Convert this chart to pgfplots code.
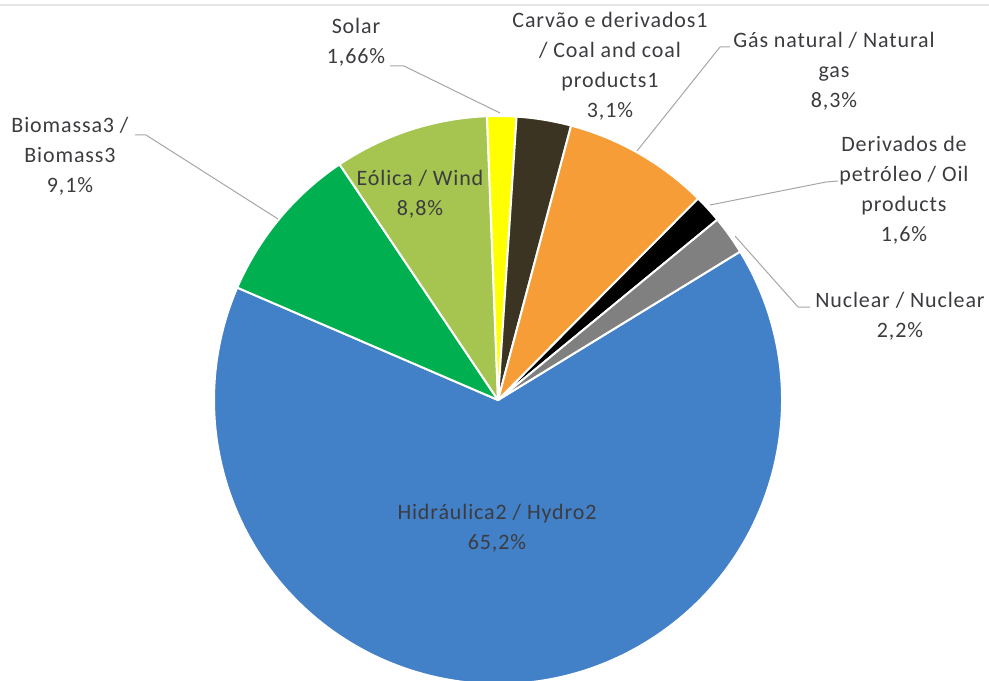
\documentclass[border=0pt]{standalone}
\usepackage{pgfplots}
\pgfplotsset{compat=1.18}
\usepackage{pgfplotstable}
\usepackage{fontspec}
\setmainfont{Carlito}[LetterSpace=4]

\definecolor{cHydro}{RGB}{66,128,200}
\definecolor{cBio}{RGB}{0,176,80}
\definecolor{cWind}{RGB}{165,197,80}
\definecolor{cSolar}{RGB}{255,255,0}
\definecolor{cCoal}{RGB}{60,52,34}
\definecolor{cGas}{RGB}{247,157,56}
\definecolor{cOil}{RGB}{0,0,0}
\definecolor{cNuc}{RGB}{128,128,128}
\definecolor{txt}{RGB}{60,60,64}
\definecolor{leader}{RGB}{166,166,166}

% shares, clockwise from the Hydro slice
\pgfplotstableread{
name value col
Hydro 65.2 cHydro
Biomass 9.1 cBio
Wind 8.8 cWind
Solar 1.66 cSolar
Coal 3.1 cCoal
Gas 8.3 cGas
Oil 1.6 cOil
Nuclear 2.2 cNuc
}\piedata

\begin{document}
\begin{tikzpicture}
\pgfplotstablegetrowsof{\piedata}
\pgfmathtruncatemacro\nrows{\pgfplotsretval-1}
\xdef\total{0}
\foreach \i in {0,...,\nrows}{%
  \pgfplotstablegetelem{\i}{value}\of\piedata
  \pgfmathsetmacro\t{\total+\pgfplotsretval}\xdef\total{\t}}
\xdef\curang{31.5}
\foreach \i in {0,...,\nrows}{%
  \pgfplotstablegetelem{\i}{value}\of\piedata
  \pgfmathsetmacro\endang{\curang-\pgfplotsretval/\total*360}
  \pgfplotstablegetelem{\i}{col}\of\piedata
  \expandafter\xdef\csname pc\i\endcsname{\pgfplotsretval}
  \expandafter\xdef\csname ps\i\endcsname{\curang}
  \expandafter\xdef\csname pe\i\endcsname{\endang}
  \xdef\curang{\endang}}
\begin{axis}[hide axis, scale only axis, width=741.75pt, height=510.75pt,
  xmin=0, xmax=989, ymin=0, ymax=681, y dir=reverse, clip=true]
\coordinate (ll) at (axis cs:0,681);
\coordinate (ur) at (axis cs:989,0);
\draw[black!10, line width=1.5pt] (axis cs:0,5) -- (axis cs:989,5);
\pgfplotsinvokeforeach{0,...,7}{%
  \fill[fill=\csname pc#1\endcsname, draw=white, line width=1.5pt, line join=round]
    (axis cs:498,400) -- ++(\csname ps#1\endcsname:213pt)
    arc[start angle=\csname ps#1\endcsname, end angle=\csname pe#1\endcsname, radius=213pt] -- cycle;
}
% leader lines
\draw[leader, line width=0.75pt] (axis cs:135,135) -- (axis cs:146,135) -- (axis cs:278,219);
\draw[leader, line width=0.75pt] (axis cs:390,66) -- (axis cs:404,66) -- (axis cs:500,113);
\draw[leader, line width=0.75pt] (axis cs:730,47) -- (axis cs:720,47) -- (axis cs:637,151);
\draw[leader, line width=0.75pt] (axis cs:838,181) -- (axis cs:826,182) -- (axis cs:710,205);
\draw[leader, line width=0.75pt] (axis cs:735,236) -- (axis cs:798,307) -- (axis cs:810,307);
% labels
\tikzset{lab/.style={align=center, inner sep=0pt, text=txt, font=\fontsize{16.5pt}{22.5pt}\selectfont}}
\node[lab] at (axis cs:70,156) {Biomassa3 /\\Biomass3\\9,1\%};
\node[lab] at (axis cs:356,42) {Solar\\1,66\%};
\node[lab] at (axis cs:610,66) {Carvão e derivados1\\/ Coal and coal\\products1\\3,1\%};
\node[lab] at (axis cs:834,71) {Gás natural / Natural\\gas\\8,3\%};
\node[lab] at (axis cs:904,190) {Derivados de\\petróleo / Oil\\products\\1,6\%};
\node[lab] at (axis cs:900,316) {Nuclear / Nuclear\\2,2\%};
\node[lab] at (axis cs:420,194) {Eólica / Wind\\8,8\%};
\node[lab] at (axis cs:497,528) {Hidráulica2 / Hydro2\\65,2\%};
\end{axis}
\pgfresetboundingbox
\path[use as bounding box] (ll) rectangle (ur);
\end{tikzpicture}
\end{document}
